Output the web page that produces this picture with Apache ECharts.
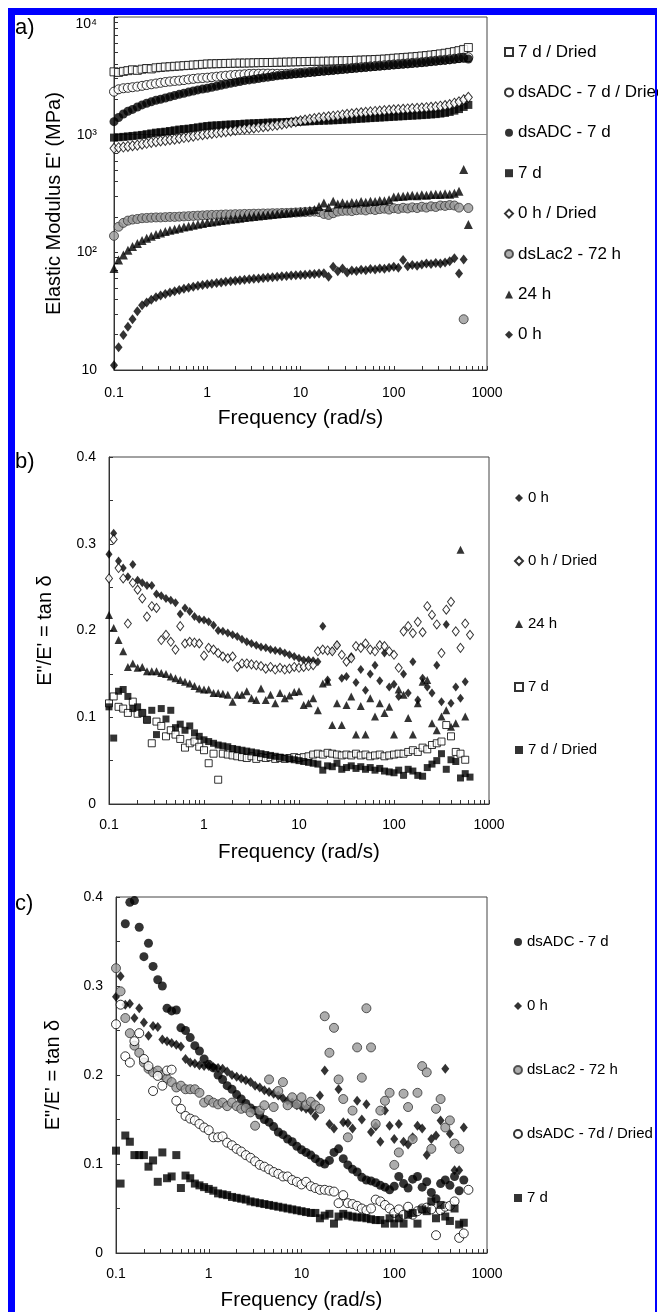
<!DOCTYPE html>
<html><head><meta charset="utf-8">
<script src="https://cdn.jsdelivr.net/npm/echarts@6/dist/echarts.min.js"></script>
<style>html,body{margin:0;padding:0;background:#fff}#c{width:658px;height:1312px}</style>
</head><body><div id="c"></div>
<script>
// ---------- shared frequency grid (rad/s) ----------
const freq = [0.1,0.112,0.126,0.141,0.158,0.178,0.2,0.224,0.251,0.282,
 0.316,0.355,0.398,0.447,0.501,0.562,0.631,0.708,0.794,0.891,
 1,1.12,1.26,1.41,1.58,1.78,2,2.24,2.51,2.82,
 3.16,3.55,3.98,4.47,5.01,5.62,6.31,7.08,7.94,8.91,
 10,11.2,12.6,14.1,15.8,17.8,20,22.4,25.1,28.2,
 31.6,35.5,39.8,44.7,50.1,56.2,63.1,70.8,79.4,89.1,
 100,112,126,141,158,178,200,224,251,282,
 316,355,398,447,501,562,631];

// ---------- tick labels / tick positions ----------
const xTickLabels = ['0.1','1','10','100','1000'];
const xTickValues = [0.1,0.2,0.3,0.4,0.5,0.6,0.7,0.8,0.9,1,2,3,4,5,6,7,8,9,10,20,30,40,50,60,70,80,90,100,200,300,400,500,600,700,800,900,1000];
const yTickLabelsA = ['10','10²','10³','10⁴'];
const yTickValuesA = [10,20,30,40,50,60,70,80,90,100,200,300,400,500,600,700,800,900,1000,2000,3000,4000,5000,6000,7000,8000,9000,10000];
const yTickLabelsBC = ['0','0.1','0.2','0.3','0.4'];
const yTickValuesBC = [0,0.05,0.1,0.15,0.2,0.25,0.3,0.35,0.4];

// ---------- panel a: elastic modulus E' (MPa) ----------
const a_7dDried = [3420,3380,3450,3500,3560,3520,3600,3650,3620,3700,3730,3760,3780,3810,3830,3860,3880,3910,3930,3960,
 3990,4000,4010,4020,4030,4040,4050,4060,4060,4070,4080,4090,4100,4100,4110,4120,4130,4140,4150,4160,
 4170,4180,4190,4200,4200,4210,4220,4230,4240,4250,4260,4270,4290,4300,4320,4330,4350,4370,4390,4420,
 4460,4490,4520,4550,4580,4620,4660,4700,4750,4800,4860,4920,5000,5080,5180,5300,5500];
const a_dsADC7dDried = [2320,2430,2480,2500,2530,2560,2600,2640,2680,2720,2760,2800,2830,2860,2880,2910,2950,2980,3010,3030,
 3050,3080,3110,3140,3170,3200,3220,3240,3260,3280,3290,3295,3300,3300,3295,3290,3285,3290,3310,3330,
 3350,3380,3410,3440,3470,3500,3530,3560,3590,3620,3650,3680,3710,3740,3770,3800,3830,3860,3890,3920,
 3950,3980,4010,4040,4070,4100,4130,4170,4210,4250,4290,4330,4370,4420,4470,4510,4550];
const a_dsADC7d = [1290,1400,1500,1580,1640,1720,1790,1850,1900,1960,2000,2050,2100,2150,2200,2250,2300,2350,2400,2440,
 2480,2530,2580,2630,2680,2730,2780,2830,2880,2920,2960,3000,3040,3080,3120,3160,3200,3230,3260,3290,
 3320,3350,3380,3410,3440,3470,3500,3530,3560,3590,3620,3650,3680,3710,3740,3770,3800,3830,3860,3890,
 3920,3950,3980,4010,4040,4070,4100,4140,4180,4220,4260,4300,4340,4390,4440,4480,4400];
const a_7d = [944,950,958,966,975,985,995,1010,1025,1040,1050,1060,1075,1090,1105,1115,1125,1140,1155,1170,
 1185,1195,1200,1205,1215,1220,1225,1230,1240,1245,1250,1255,1260,1265,1270,1272,1276,1280,1284,1288,
 1292,1296,1300,1305,1310,1315,1320,1325,1330,1338,1345,1352,1360,1368,1375,1383,1390,1398,1405,1412,
 1420,1428,1435,1443,1450,1458,1466,1475,1485,1495,1510,1530,1560,1600,1650,1720,1790];
const a_0hDried = [766,775,785,795,805,815,830,845,860,872,885,895,905,915,930,945,958,972,988,1000,
 1013,1025,1037,1050,1062,1075,1090,1105,1118,1130,1142,1155,1168,1180,1195,1210,1230,1250,1270,1290,
 1310,1330,1350,1370,1390,1405,1420,1435,1450,1470,1490,1505,1520,1535,1550,1562,1575,1588,1600,1612,
 1625,1635,1645,1655,1665,1675,1685,1695,1710,1725,1745,1770,1800,1850,1900,1980,2075];
const a_dsLac2 = [138,165,178,186,190,192,195,196,197,198,198,199,200,200,201,202,203,204,205,206,
 207,208,208,209,210,210,211,211,212,212,213,213,214,214,215,215,216,216,217,218,
 219,220,221,222,220,212,208,215,222,225,226,224,228,230,227,232,229,233,235,231,
 237,234,239,236,241,238,244,240,246,243,250,248,252,250,240,27,238];
const a_24h = [73,86,95,104,112,119,126,132,137,142,146,150,154,157,160,164,167,170,173,176,
 179,181,184,186,188,191,193,195,198,200,202,204,206,208,210,212,214,216,218,220,
 222,225,228,231,245,262,240,272,258,264,258,265,262,270,266,272,270,276,274,280,
 295,298,300,302,305,303,308,306,310,312,310,315,312,318,330,505,172];
const a_0h = [11.0,15.6,19.8,23.3,27.0,31.5,35.5,37.5,39.5,41.5,43.0,44.3,45.5,46.7,47.9,49.0,50.0,51.0,52.0,52.8,
 53.5,54.2,54.8,55.5,56.1,56.7,57.3,57.8,58.4,59.0,59.5,60.0,60.5,61.0,61.5,62.0,62.5,63.0,63.4,63.8,
 64.1,64.5,65.0,65.5,66.0,66.5,62.0,75.5,69.0,73.0,67.5,70.0,69.5,71.0,70.5,72.0,71.5,73.0,72.5,74.0,
 75.5,74.0,86.0,76.0,78.0,77.0,79.0,80.5,79.5,81.0,80.5,82.0,84.0,89.0,66.0,87.0,null];

// ---------- panel b: tan delta ----------
const b_0h = [0.288,0.312,0.280,0.272,0.262,0.276,0.258,0.255,0.252,0.252,0.242,0.240,0.237,0.235,0.232,0.219,0.226,0.222,0.216,0.213,
 0.212,0.210,0.206,0.200,0.199,0.197,0.195,0.193,0.190,0.187,0.185,0.183,0.181,0.180,0.178,0.177,0.176,0.174,0.172,0.170,
 0.168,0.166,0.166,0.165,0.164,0.205,0.143,0.176,0.183,0.145,0.147,0.170,0.140,0.155,0.131,0.150,0.160,0.142,0.174,0.135,
 0.138,0.124,0.150,0.128,0.164,0.120,0.145,0.135,0.128,0.160,0.118,0.207,0.116,0.135,0.122,0.141,null];
const b_0hDried = [0.260,0.305,0.272,0.260,0.208,0.255,0.247,0.237,0.216,0.228,0.226,0.189,0.195,0.187,0.178,0.205,0.185,0.187,0.186,0.185,
 0.171,0.180,0.178,0.174,0.170,0.168,0.170,0.158,0.162,0.162,0.161,0.160,0.159,0.156,0.158,0.155,0.157,0.155,0.156,0.158,
 0.157,0.158,0.159,0.160,0.176,0.178,0.177,0.176,0.183,0.172,0.164,0.168,0.182,0.180,0.185,0.178,0.176,0.183,0.182,0.176,
 0.172,0.157,0.199,0.205,0.197,0.210,0.198,0.228,0.218,0.207,0.174,0.224,0.233,0.199,0.180,0.208,0.195];
const b_24h = [0.218,0.203,0.189,0.176,0.158,0.162,0.157,0.158,0.153,0.153,0.153,0.151,0.150,0.147,0.145,0.143,0.141,0.139,0.136,0.133,
 0.132,0.132,0.128,0.128,0.127,0.126,0.118,0.126,0.126,0.130,0.122,0.120,0.133,0.120,0.126,0.116,0.128,0.122,0.125,0.129,
 0.130,0.114,0.116,0.122,0.108,0.139,0.141,0.091,0.116,0.091,0.114,0.124,0.080,0.113,0.080,0.122,0.101,0.116,0.105,0.112,
 0.080,0.132,0.126,0.099,0.080,0.116,0.141,0.143,0.093,0.085,0.101,0.108,0.089,0.093,0.293,0.101,null];
const b_7d = [0.116,0.124,0.112,0.110,0.105,0.118,0.104,0.105,0.097,0.070,0.095,0.090,0.078,0.085,0.080,0.075,0.065,0.070,0.072,0.066,
 0.062,0.047,0.058,0.028,0.058,0.057,0.056,0.055,0.054,0.053,0.055,0.052,0.054,0.053,0.054,0.052,0.053,0.052,0.053,0.054,
 0.053,0.054,0.055,0.057,0.058,0.057,0.059,0.058,0.057,0.056,0.057,0.056,0.058,0.056,0.057,0.055,0.056,0.057,0.055,0.056,
 0.057,0.058,0.058,0.060,0.062,0.060,0.065,0.063,0.068,0.070,0.072,0.091,0.078,0.060,0.058,0.051,null];
const b_7dDried = [0.112,0.076,0.130,0.132,0.124,0.110,0.112,0.105,0.097,0.108,0.080,0.110,0.098,0.108,0.088,0.092,0.085,0.090,0.082,0.078,
 0.074,0.072,0.070,0.068,0.067,0.066,0.064,0.063,0.062,0.061,0.060,0.059,0.058,0.057,0.056,0.055,0.054,0.053,0.052,0.051,
 0.050,0.049,0.048,0.047,0.046,0.039,0.044,0.043,0.047,0.040,0.042,0.044,0.041,0.043,0.040,0.042,0.039,0.041,0.038,0.037,
 0.036,0.039,0.033,0.040,0.038,0.033,0.032,0.042,0.046,0.050,0.058,0.040,0.051,0.049,0.030,0.035,0.031];

// ---------- panel c: tan delta ----------
const c_dsADC7d = [null,null,0.370,0.394,0.396,0.366,0.333,0.348,0.322,0.307,0.300,0.275,0.272,0.273,0.253,0.250,0.242,0.233,0.227,0.218,
 0.212,0.208,0.200,0.195,0.188,0.184,0.178,0.173,0.168,0.163,0.160,0.155,0.150,0.147,0.142,0.136,0.133,0.128,0.125,0.120,
 0.116,0.113,0.110,0.106,0.102,0.100,0.104,0.113,0.117,0.106,0.099,0.094,0.091,0.085,0.082,0.081,0.079,0.076,0.074,0.071,
 0.075,0.086,0.078,0.073,0.083,0.086,0.074,0.080,0.068,0.061,0.078,0.082,0.076,0.086,0.070,0.082,null];
const c_0h = [0.288,0.311,0.279,0.280,0.264,0.275,0.259,0.244,0.255,0.254,0.240,0.238,0.236,0.234,0.232,0.218,0.214,0.213,0.211,0.210,
 0.210,0.209,0.208,0.207,0.204,0.200,0.198,0.196,0.194,0.192,0.188,0.186,0.183,0.181,0.179,0.177,0.174,0.171,0.169,0.166,
 0.164,0.162,0.160,0.154,0.177,0.205,0.145,0.140,0.184,0.147,0.146,0.140,0.171,0.150,0.167,0.136,0.142,0.125,0.160,0.143,
 0.128,0.145,0.125,0.122,0.130,0.143,0.140,0.110,0.128,0.132,0.149,0.207,0.134,0.093,0.093,0.141,null];
const c_dsLac2 = [0.320,0.294,0.264,0.247,0.233,0.225,0.214,0.207,0.203,0.205,0.200,0.196,0.192,0.186,0.188,0.184,0.184,0.184,0.180,0.169,
 0.172,0.169,0.167,0.169,0.165,0.169,0.165,0.162,0.163,0.158,0.143,0.160,0.166,0.195,0.164,0.182,0.192,0.166,0.175,0.167,
 0.175,0.166,0.170,0.166,0.162,0.266,0.225,0.253,0.195,0.173,0.130,0.160,0.231,0.197,0.275,0.231,0.145,0.160,0.171,0.180,
 0.099,0.113,0.179,0.164,0.128,0.180,0.210,0.203,0.117,0.162,0.173,0.141,0.149,0.123,0.117,null,null];
const c_dsADC7dDried = [0.257,0.279,0.221,0.214,0.238,0.247,0.218,0.210,0.182,0.199,0.188,0.205,0.206,0.171,0.162,0.154,0.151,0.149,0.145,0.141,
 0.138,0.130,0.130,0.131,0.124,0.121,0.117,0.114,0.110,0.107,0.103,0.099,0.097,0.094,0.091,0.089,0.086,0.086,0.082,0.080,
 0.077,0.080,0.075,0.073,0.071,0.071,0.070,0.069,0.056,0.065,0.056,0.055,0.053,0.050,0.048,0.050,0.060,0.058,0.054,0.050,
 0.045,0.049,0.043,0.052,0.043,0.047,0.050,0.051,0.049,0.020,0.048,0.052,0.053,0.058,0.017,0.022,0.071];
const c_7d = [0.115,0.078,0.132,0.125,0.110,0.110,0.110,0.097,0.104,0.080,0.113,0.084,0.086,0.110,0.073,0.087,0.084,0.078,0.076,0.074,
 0.072,0.070,0.067,0.066,0.065,0.063,0.062,0.061,0.060,0.058,0.057,0.056,0.055,0.054,0.053,0.052,0.051,0.050,0.049,0.048,
 0.047,0.046,0.045,0.045,0.039,0.042,0.044,0.033,0.041,0.044,0.042,0.041,0.040,0.040,0.039,0.038,0.037,0.037,0.033,0.039,
 0.033,0.039,0.033,0.043,0.045,0.033,0.049,0.047,0.058,0.039,0.054,0.041,0.036,0.050,0.032,0.034,null];

// ---------- styling ----------
const FONT = "'Liberation Sans', Arial, Helvetica, sans-serif";
function styles(k){ // k: size increment per panel
  return {
    sqO: {symbol:'rect', symbolSize:7+k, itemStyle:{color:'#fff', borderColor:'#000', borderWidth:1}},
    sqF: {symbol:'rect', symbolSize:7+k, itemStyle:{color:'#000', borderColor:'#000', borderWidth:0}},
    ciO: {symbol:'circle', symbolSize:8+k, itemStyle:{color:'#fff', borderColor:'#000', borderWidth:1}},
    ciF: {symbol:'circle', symbolSize:8+k, itemStyle:{color:'#000', borderColor:'#000', borderWidth:0}},
    ciG: {symbol:'circle', symbolSize:8+k, itemStyle:{color:'#999999', borderColor:'#333', borderWidth:1}},
    diO: {symbol:'diamond', symbolSize:[7+k,9+k], itemStyle:{color:'#fff', borderColor:'#000', borderWidth:1}},
    diF: {symbol:'diamond', symbolSize:[7+k,9+k], itemStyle:{color:'#000', borderColor:'#000', borderWidth:0}},
    trF: {symbol:'triangle', symbolSize:8+k, itemStyle:{color:'#000', borderColor:'#000', borderWidth:0}}
  };
}

const panels = [
  {key:'a', grow:1, items:[['7 d / Dried',a_7dDried,'sqO'],['dsADC - 7 d / Dried',a_dsADC7dDried,'ciO'],['dsADC - 7 d',a_dsADC7d,'ciF'],
    ['7 d',a_7d,'sqF'],['0 h / Dried',a_0hDried,'diO'],['dsLac2 - 72 h',a_dsLac2,'ciG'],['24 h',a_24h,'trF'],['0 h',a_0h,'diF']]},
  {key:'b', grow:0, items:[['0 h',b_0h,'diF'],['0 h / Dried',b_0hDried,'diO'],['24 h',b_24h,'trF'],['7 d',b_7d,'sqO'],['7 d / Dried',b_7dDried,'sqF']]},
  {key:'c', grow:1, items:[['dsADC - 7 d',c_dsADC7d,'ciF'],['0 h',c_0h,'diF'],['dsLac2 - 72 h',c_dsLac2,'ciG'],['dsADC - 7d / Dried',c_dsADC7dDried,'ciO'],['7 d',c_7d,'sqF']]}
];

function pts(vals){ const out=[]; freq.forEach((f,i)=>{ if(vals[i]!=null) out.push([f, vals[i]]); }); return out; }

const series = [];
panels.forEach((p, gi) => {
  const STY = styles(p.grow);
  p.items.forEach((it, si) => {
    const st = STY[it[2]];
    const s = {name: p.key+'|'+it[0], type:'scatter', xAxisIndex:gi, yAxisIndex:gi,
      symbol: st.symbol, symbolSize: st.symbolSize, itemStyle: st.itemStyle,
      data: pts(it[1]), z: 2+si, emphasis:{disabled:true}, animation:false};
    if (gi===0 && si===0) {
      s.markLine = {silent:true, symbol:'none', animation:false, label:{show:false},
        lineStyle:{color:'#808080', width:1, type:'solid'}, data:[{yAxis:1000}]};
    }
    series.push(s);
  });
});

const grids = [
  {left:114, top:17, width:373, height:353},
  {left:109, top:457, width:380, height:347},
  {left:116, top:897, width:371, height:358}
].map(g => Object.assign(g, {show:true, borderColor:'#444', borderWidth:1, backgroundColor:'transparent'}));

function xAxisFor(gi, margin, gap, fs){
  return {type:'log', logBase:10, gridIndex:gi, min:0.1, max:1000,
    name:'Frequency (rad/s)', nameLocation:'middle', nameGap:gap,
    nameTextStyle:{fontSize:fs, color:'#000', fontFamily:FONT},
    axisLine:{show:true, onZero:false, lineStyle:{color:'#333', width:1}},
    axisTick:{show:true, inside:true, length:4, customValues:xTickValues, lineStyle:{color:'#333'}},
    axisLabel:{margin:margin, fontSize:14, color:'#000', fontFamily:FONT,
      formatter: v => xTickLabels[Math.round(Math.log10(v))+1]},
    splitLine:{show:false}};
}
function yAxisTan(gi, gap){
  return {type:'value', gridIndex:gi, min:0, max:0.4, interval:0.1,
    name:'E"/E\' = tan δ', nameLocation:'middle', nameGap:gap,
    nameTextStyle:{fontSize:20, color:'#000', fontFamily:FONT},
    axisLine:{show:true, onZero:false, lineStyle:{color:'#333', width:1}},
    axisTick:{show:true, inside:true, length:4, customValues:yTickValuesBC, lineStyle:{color:'#333'}},
    axisLabel:{margin:13, fontSize:14, color:'#000', fontFamily:FONT,
      formatter: v => yTickLabelsBC[Math.round(v*10)]},
    splitLine:{show:false}};
}

const legendBase = {orient:'vertical', itemWidth:8, itemHeight:8, selectedMode:false, padding:0,
  formatter: n => n.slice(2)};
const legends = [
  Object.assign({}, legendBase, {left:504, top:43, itemGap:22.4, data: panels[0].items.map(i=>'a|'+i[0]),
    textStyle:{fontSize:17, color:'#000', fontFamily:FONT, lineHeight:18}}),
  Object.assign({}, legendBase, {left:514, top:490, itemGap:47, data: panels[1].items.map(i=>'b|'+i[0]),
    textStyle:{fontSize:15, color:'#000', fontFamily:FONT, lineHeight:16}}),
  Object.assign({}, legendBase, {left:513, top:934, itemGap:48, data: panels[2].items.map(i=>'c|'+i[0]),
    textStyle:{fontSize:15, color:'#000', fontFamily:FONT, lineHeight:16}})
];

const option = {
  animation:false,
  backgroundColor:'#fff',
  grid: grids,
  xAxis: [xAxisFor(0,16,38,21), xAxisFor(1,14,38,20.5), xAxisFor(2,14,37,20.5)],
  yAxis: [
    {type:'log', logBase:10, gridIndex:0, min:10, max:10000,
      name:"Elastic Modulus E' (MPa)", nameLocation:'middle', nameGap:49,
      nameTextStyle:{fontSize:20, color:'#000', fontFamily:FONT, padding:[0,20,0,0]},
      axisLine:{show:true, onZero:false, lineStyle:{color:'#333', width:1}},
      axisTick:{show:true, inside:true, length:4, customValues:yTickValuesA, lineStyle:{color:'#333'}},
      axisLabel:{margin:17, fontSize:14, color:'#000', fontFamily:FONT,
        rich:{top:{padding:[14,0,0,0], fontSize:14, color:'#000', fontFamily:FONT}},
        formatter: v => { const e = Math.round(Math.log10(v)); const s = yTickLabelsA[e-1]; return e===4 ? '{top|'+s+'}' : s; }},
      splitLine:{show:false}},
    yAxisTan(1,54),
    yAxisTan(2,53)
  ],
  legend: legends,
  series: series,
  graphic: [
    {type:'text', left:15, top:17, style:{text:'a)', fill:'#000', font:'22px '+FONT}},
    {type:'text', left:15, top:451, style:{text:'b)', fill:'#000', font:'22px '+FONT}},
    {type:'text', left:15, top:893, style:{text:'c)', fill:'#000', font:'22px '+FONT}},
    {type:'rect', left:8, top:8, z:100, shape:{width:648, height:7}, style:{fill:'#0000ff'}},
    {type:'rect', left:8, top:8, z:100, shape:{width:7, height:1304}, style:{fill:'#0000ff'}},
    {type:'rect', left:655, top:8, z:100, shape:{width:2, height:1304}, style:{fill:'#0000ff'}}
  ]
};

const chart = echarts.init(document.getElementById('c'), null, {renderer:'canvas'});
chart.setOption(option);
</script>
</body></html>
